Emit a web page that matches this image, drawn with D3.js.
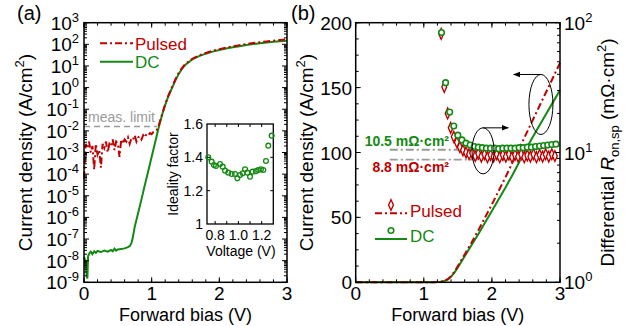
<!DOCTYPE html>
<html>
<head>
<meta charset="utf-8">
<script src="https://cdn.jsdelivr.net/npm/d3@7"></script>
<style>
  body { margin: 0; background: #fff; }
  svg { display: block; font-family: 'Liberation Sans', Arial, Helvetica, sans-serif; }
</style>
</head>
<body>
<svg id="chart" width="641" height="326"></svg>
<script>
// ---- data ----
// DC current density (A/cm^2) vs forward bias (V)
const dcV = [0, 0.02, 0.04, 0.05, 0.06, 0.08, 0.10, 0.125, 0.15, 0.175, 0.20, 0.25, 0.30, 0.35, 0.40, 0.425, 0.45, 0.475, 0.50, 0.55,
  0.60, 0.65, 0.68, 0.70, 0.72, 0.75, 0.80, 0.85, 0.90, 0.95, 1.00, 1.05, 1.10, 1.15, 1.20, 1.25, 1.30, 1.35, 1.40, 1.45,
  1.50, 1.60, 1.70, 1.80, 1.90, 2.00, 2.10, 2.20, 2.30, 2.40, 2.50, 2.60, 2.70, 2.80, 2.90, 3.00];
const dcJ = [1.5e-8, 1.0e-8, 2.0e-9, 1.5e-9, 1.6e-8, 2.2e-8, 2.6e-8, 2.0e-8, 2.7e-8, 2.3e-8, 2.8e-8, 2.5e-8, 2.9e-8, 2.6e-8, 3.1e-8, 2.7e-8, 3.6e-8, 2.9e-8, 3.3e-8, 3.5e-8,
  3.7e-8, 4.2e-8, 4.8e-8, 6.5e-8, 1.1e-7, 3.7e-7, 1.6e-6, 7.0e-6, 3.2e-5, 1.4e-4, 6.3e-4, 2.8e-3, 1.3e-2, 5.0e-2, 0.16, 0.42, 0.95, 2.1, 4.3, 7.5,
  11.5, 20, 28.5, 37, 46, 55, 64, 73, 82.5, 92.5, 102.5, 112, 121, 130, 139, 148];

// Pulsed current density
const puV = [0, 0.025, 0.05, 0.075, 0.1, 0.125, 0.15, 0.175, 0.2, 0.225, 0.25, 0.275, 0.3, 0.325, 0.35, 0.375, 0.4, 0.425, 0.45, 0.475,
  0.5, 0.525, 0.55, 0.575, 0.6, 0.625, 0.65, 0.675, 0.7, 0.725, 0.75, 0.775, 0.8, 0.825, 0.85, 0.875, 0.9, 0.925, 0.95, 0.975,
  1.0, 1.025, 1.05, 1.075, 1.1, 1.15, 1.20, 1.25, 1.30, 1.35, 1.40, 1.45, 1.50, 1.60, 1.70, 1.80, 1.90, 2.00, 2.10, 2.20,
  2.30, 2.40, 2.50, 2.60, 2.70, 2.80, 2.90, 3.00];
const puJ = [6.3e-5, 2.5e-3, 1.6e-3, 3.2e-3, 1.0e-3, 2.0e-3, 1.6e-4, 2.5e-3, 8.0e-4, 1.3e-3, 2.0e-4, 2.5e-3, 1.6e-3, 3.2e-3, 1.0e-3, 2.5e-3, 2.0e-3, 4.0e-3, 1.3e-3, 3.2e-3,
  2.5e-3, 6.3e-4, 4.0e-3, 2.5e-3, 4.0e-3, 3.2e-3, 5.0e-3, 2.5e-3, 4.5e-3, 4.0e-3, 6.3e-3, 3.2e-3, 5.0e-3, 5.6e-3, 4.0e-3, 6.3e-3, 5.0e-3, 7.1e-3, 6.3e-3, 7.9e-3,
  7.1e-3, 8.9e-3, 1.0e-2, 1.1e-2, 1.6e-2, 5.2e-2, 0.17, 0.45, 1.05, 2.4, 4.8, 8.2, 12.5, 21.5, 30.5, 40, 50, 60, 70.5, 81,
  92, 103, 114, 125, 136, 147, 158, 169];

// Differential R_on,sp (mOhm cm^2)
const rDcV = [1.26, 1.32, 1.38, 1.44, 1.50, 1.56, 1.62, 1.68, 1.74, 1.80, 1.86, 1.92, 1.98, 2.04, 2.10, 2.16, 2.22, 2.28, 2.34, 2.40,
  2.46, 2.52, 2.58, 2.64, 2.70, 2.76, 2.82, 2.88, 2.94];
const rDc = [84, 34.5, 20.5, 16, 13.6, 12.5, 11.8, 11.4, 11.1, 11.0, 10.9, 10.8, 10.8, 10.8, 10.7, 10.8, 10.8, 10.8, 10.8, 10.9,
  10.9, 11.0, 11.0, 11.1, 11.2, 11.3, 11.4, 11.5, 11.6];
const rPuV = [1.255, 1.30, 1.35, 1.395, 1.44, 1.485, 1.53, 1.575, 1.62, 1.665, 1.71, 1.755, 1.80, 1.845, 1.89, 1.935, 1.98, 2.025, 2.07, 2.115,
  2.16, 2.205, 2.25, 2.295, 2.34, 2.385, 2.43, 2.475, 2.52, 2.565, 2.61, 2.655, 2.70, 2.745, 2.79, 2.835, 2.88, 2.925];
const rPu = [82, 32, 20, 15.5, 13.2, 12.0, 11.0, 10.4, 10.0, 9.7, 9.9, 9.4, 9.8, 9.3, 9.7, 9.2, 9.6, 9.3, 9.7, 9.2,
  9.6, 9.3, 9.7, 9.2, 9.6, 9.3, 9.7, 9.2, 9.5, 9.3, 9.7, 9.2, 9.6, 9.3, 9.7, 9.3, 9.7, 9.4];
const rDcRef = 10.5, rPuRef = 8.8;

// Inset: ideality factor vs voltage
const nV = [0.741, 0.770, 0.790, 0.807, 0.842, 0.865, 0.885, 0.913, 0.942, 0.971, 0.991, 1.014, 1.037, 1.057, 1.077, 1.100, 1.123, 1.151, 1.171, 1.194,
  1.214, 1.237, 1.257, 1.286];
const nVal = [1.40, 1.374, 1.354, 1.348, 1.36, 1.344, 1.32, 1.308, 1.30, 1.30, 1.274, 1.294, 1.304, 1.328, 1.308, 1.284, 1.314, 1.317, 1.324, 1.328,
  1.324, 1.378, 1.47, 1.53];

const measLimit = 1.6e-2;
const xTicks = [0, 1, 2, 3];
const logTicksA = d3.range(-9, 4);
const linTicksB = [0, 50, 100, 150, 200];
const logTicksR = [0, 1, 2];
const insetXTicks = [0.8, 1.0, 1.2];
const insetYTicks = [1, 1.2, 1.4, 1.6];

const RED = '#c00000';
const GREEN = '#138a13';
const GRAY = '#9a9a9a';
const FS = 19;

const svg = d3.select('#chart');

// ---- scales ----
const xa = d3.scaleLinear().domain([0, 3]).range([84, 287]);
const ya = d3.scaleLog().domain([1e-9, 1e3]).range([282.3, 22.7]);
const xb = d3.scaleLinear().domain([0, 3]).range([355.7, 560]);
const yb = d3.scaleLinear().domain([0, 200]).range([282.3, 22.7]);
const yr = d3.scaleLog().domain([1, 100]).range([282.3, 22.7]);
const xi = d3.scaleLinear().domain([0.73, 1.3]).range([207, 273.3]);
const yi = d3.scaleLinear().domain([1, 1.6]).range([224, 124]);

const dc = dcV.map((v, i) => ({ v, j: dcJ[i] }));
const pu = puV.map((v, i) => ({ v, j: puJ[i] }));

// helpers for inward ticks
function yTicks(g, vals, scale, x, len, dir) {
  g.append('g').selectAll('line').data(vals).join('line')
    .attr('x1', x).attr('x2', x + dir * len)
    .attr('y1', d => scale(d)).attr('y2', d => scale(d))
    .attr('stroke', '#000').attr('stroke-width', 1);
}
function xTicksAt(g, vals, scale, y, len, dir) {
  g.append('g').selectAll('line').data(vals).join('line')
    .attr('y1', y).attr('y2', y + dir * len)
    .attr('x1', d => scale(d)).attr('x2', d => scale(d))
    .attr('stroke', '#000').attr('stroke-width', 1);
}
function pow10(sel, k, fs, sup) {
  sel.append('tspan').text('10');
  sel.append('tspan').attr('dy', -fs * 0.42).attr('font-size', sup).text(k < 0 ? '-' + (-k) : k);
}

const logMinor = [];
for (let k = -9; k < 3; k++) for (let m = 2; m <= 9; m++) logMinor.push(m * Math.pow(10, k));
const logMinorR = [];
for (let k = 0; k < 2; k++) for (let m = 2; m <= 9; m++) logMinorR.push(m * Math.pow(10, k));
const xMinor = d3.range(0, 3.001, 0.2).map(d => +d.toFixed(1));

// ================= panel (a) =================
const ga = svg.append('g');

// measurement limit
ga.append('line')
  .attr('x1', xa(0)).attr('x2', xa(1.08))
  .attr('y1', ya(measLimit)).attr('y2', ya(measLimit))
  .attr('stroke', GRAY).attr('stroke-width', 1.5).attr('stroke-dasharray', '6,4');
ga.append('text')
  .attr('x', xa(0.06)).attr('y', ya(measLimit) - 4)
  .attr('font-size', 14).attr('fill', GRAY).text('meas. limit');

const lineA = d3.line().x(d => xa(d.v)).y(d => ya(d.j));
ga.append('path').datum(dc).attr('d', lineA)
  .attr('fill', 'none').attr('stroke', GREEN).attr('stroke-width', 2);
ga.append('path').datum(pu).attr('d', lineA)
  .attr('fill', 'none').attr('stroke', RED).attr('stroke-width', 2)
  .attr('stroke-dasharray', '7,3,2,3');

// frame + ticks
ga.append('rect').attr('x', xa(0)).attr('y', ya(1e3))
  .attr('width', xa(3) - xa(0)).attr('height', ya(1e-9) - ya(1e3))
  .attr('fill', 'none').attr('stroke', '#000').attr('stroke-width', 1.5);
yTicks(ga, logTicksA.map(k => Math.pow(10, k)), ya, xa(0), 5, 1);
yTicks(ga, logTicksA.map(k => Math.pow(10, k)), ya, xa(3), 5, -1);
yTicks(ga, logMinor, ya, xa(0), 3, 1);
yTicks(ga, logMinor, ya, xa(3), 3, -1);
xTicksAt(ga, xMinor, xa, ya(1e-9), 3, -1);
xTicksAt(ga, xMinor, xa, ya(1e3), 3, 1);
xTicksAt(ga, xTicks, xa, ya(1e-9), 5, -1);
xTicksAt(ga, xTicks, xa, ya(1e3), 5, 1);

// tick labels
ga.append('g').selectAll('text').data(logTicksA).join('text')
  .attr('x', 79).attr('y', d => ya(Math.pow(10, d)) + 7)
  .attr('text-anchor', 'end').attr('font-size', FS)
  .each(function (d) { pow10(d3.select(this), d, FS, 13); });
ga.append('g').selectAll('text').data(xTicks).join('text')
  .attr('x', d => xa(d)).attr('y', 300)
  .attr('text-anchor', 'middle').attr('font-size', FS).text(d => d);

ga.append('text').attr('x', xa(1.5)).attr('y', 320.5)
  .attr('text-anchor', 'middle').attr('font-size', 18).text('Forward bias (V)');
const ylA = ga.append('text')
  .attr('transform', `translate(32, ${(ya(1e3) + ya(1e-9)) / 2}) rotate(-90)`)
  .attr('text-anchor', 'middle').attr('font-size', FS);
ylA.append('tspan').text('Current density (A/cm');
ylA.append('tspan').attr('dy', -8).attr('font-size', 13).text('2');
ylA.append('tspan').attr('dy', 8).text(')');

ga.append('text').attr('x', 17).attr('y', 20).attr('font-size', 20).text('(a)');

// legend (a)
ga.append('line').attr('x1', 100).attr('x2', 133).attr('y1', 43.3).attr('y2', 43.3)
  .attr('stroke', RED).attr('stroke-width', 2).attr('stroke-dasharray', '7,3,2,3');
ga.append('text').attr('x', 135).attr('y', 49.5).attr('font-size', 17).attr('fill', RED).text('Pulsed');
ga.append('line').attr('x1', 100).attr('x2', 133).attr('y1', 61.7).attr('y2', 61.7)
  .attr('stroke', GREEN).attr('stroke-width', 2);
ga.append('text').attr('x', 135).attr('y', 67.8).attr('font-size', 17).attr('fill', GREEN).text('DC');

// ---- inset ----
const gi = svg.append('g');
gi.append('rect').attr('x', xi.range()[0]).attr('y', yi(1.6))
  .attr('width', xi.range()[1] - xi.range()[0]).attr('height', yi(1) - yi(1.6))
  .attr('fill', '#fff').attr('stroke', '#000').attr('stroke-width', 1.3);
xTicksAt(gi, [0.8, 0.9, 1.0, 1.1, 1.2], xi, yi(1), 3, -1);
xTicksAt(gi, [0.8, 0.9, 1.0, 1.1, 1.2], xi, yi(1.6), 3, 1);
yTicks(gi, [1.2, 1.4], yi, xi.range()[0], 3, 1);
yTicks(gi, [1.2, 1.4], yi, xi.range()[1], 3, -1);
gi.append('g').selectAll('circle').data(nV).join('circle')
  .attr('cx', d => xi(d)).attr('cy', (d, i) => yi(nVal[i])).attr('r', 2.4)
  .attr('fill', 'none').attr('stroke', GREEN).attr('stroke-width', 1.3);
gi.append('g').selectAll('text').data(insetYTicks).join('text')
  .attr('x', 203).attr('y', d => yi(d) + 5)
  .attr('text-anchor', 'end').attr('font-size', 14).text(d => d === 1 ? '1' : d.toFixed(1));
gi.append('g').selectAll('text').data(insetXTicks).join('text')
  .attr('x', d => xi(d)).attr('y', 240)
  .attr('text-anchor', 'middle').attr('font-size', 14).text(d => d.toFixed(1));
gi.append('text').attr('x', 241).attr('y', 256).attr('text-anchor', 'middle')
  .attr('font-size', 14).text('Voltage (V)');
gi.append('text').attr('transform', `translate(178, ${(yi(1) + yi(1.6)) / 2}) rotate(-90)`)
  .attr('text-anchor', 'middle').attr('font-size', 14).text('Ideality factor');

// ================= panel (b) =================
const gb = svg.append('g');
const lineB = d3.line().x(d => xb(d.v)).y(d => yb(d.j));
gb.append('path').datum(dc).attr('d', lineB)
  .attr('fill', 'none').attr('stroke', GREEN).attr('stroke-width', 2);
gb.append('path').datum(pu).attr('d', lineB)
  .attr('fill', 'none').attr('stroke', RED).attr('stroke-width', 2)
  .attr('stroke-dasharray', '7,3,2,3');

// reference resistance levels
[rDcRef, rPuRef].forEach(r => {
  gb.append('line').attr('x1', xb(0.5)).attr('x2', xb(2.45))
    .attr('y1', yr(r)).attr('y2', yr(r))
    .attr('stroke', GRAY).attr('stroke-width', 1.8).attr('stroke-dasharray', '8,3,2,3');
});

// R markers
const diamond = d3.symbol().type(d3.symbolDiamond).size(20);
gb.append('g').selectAll('path').data(rPuV).join('path')
  .attr('d', diamond)
  .attr('transform', (d, i) => `translate(${xb(d)},${yr(rPu[i])}) scale(1,1.3)`)
  .attr('fill', '#fff').attr('stroke', RED).attr('stroke-width', 1.3);
gb.append('g').selectAll('circle').data(rDcV).join('circle')
  .attr('cx', d => xb(d)).attr('cy', (d, i) => yr(rDc[i])).attr('r', 2.8)
  .attr('fill', '#fff').attr('stroke', GREEN).attr('stroke-width', 1.6);

gb.append('text').attr('x', 449).attr('y', 146).attr('text-anchor', 'end')
  .attr('font-size', 14).attr('font-weight', 'bold').attr('fill', GREEN).text('10.5 mΩ·cm²');
gb.append('text').attr('x', 449).attr('y', 171.5).attr('text-anchor', 'end')
  .attr('font-size', 14).attr('font-weight', 'bold').attr('fill', RED).text('8.8 mΩ·cm²');

// ellipses + arrows
svg.append('defs').append('marker').attr('id', 'arr')
  .attr('viewBox', '0 0 10 10').attr('refX', 9).attr('refY', 5)
  .attr('markerWidth', 7).attr('markerHeight', 7).attr('orient', 'auto')
  .append('path').attr('d', 'M0,1 L10,5 L0,9 Z').attr('fill', '#000');
const e1 = { cx: xb(1.87), cy: yr(10.3), rx: 11, ry: 23 };
const e2 = { cx: xb(2.72), cy: yb(137), rx: 12, ry: 30 };
[e1, e2].forEach(e => {
  gb.append('ellipse').attr('cx', e.cx).attr('cy', e.cy).attr('rx', e.rx).attr('ry', e.ry)
    .attr('fill', 'none').attr('stroke', '#000').attr('stroke-width', 1);
});
gb.append('line').attr('x1', e1.cx).attr('x2', xb(2.24)).attr('y1', e1.cy - e1.ry).attr('y2', e1.cy - e1.ry)
  .attr('stroke', '#000').attr('stroke-width', 1).attr('marker-end', 'url(#arr)');
gb.append('line').attr('x1', e2.cx).attr('x2', xb(2.32)).attr('y1', e2.cy - e2.ry).attr('y2', e2.cy - e2.ry)
  .attr('stroke', '#000').attr('stroke-width', 1).attr('marker-end', 'url(#arr)');

// frame + ticks
gb.append('rect').attr('x', xb(0)).attr('y', yb(200))
  .attr('width', xb(3) - xb(0)).attr('height', yb(0) - yb(200))
  .attr('fill', 'none').attr('stroke', '#000').attr('stroke-width', 1.5);
yTicks(gb, d3.range(0, 200.1, 12.5), yb, xb(0), 3, 1);
yTicks(gb, linTicksB, yb, xb(0), 5, 1);
yTicks(gb, logTicksR.map(k => Math.pow(10, k)), yr, xb(3), 5, -1);
yTicks(gb, logMinorR, yr, xb(3), 3, -1);
xTicksAt(gb, xMinor, xb, yb(0), 3, -1);
xTicksAt(gb, xMinor, xb, yb(200), 3, 1);
xTicksAt(gb, xTicks, xb, yb(0), 5, -1);
xTicksAt(gb, xTicks, xb, yb(200), 5, 1);

gb.append('g').selectAll('text').data(linTicksB).join('text')
  .attr('x', 352).attr('y', d => yb(d) + 7)
  .attr('text-anchor', 'end').attr('font-size', FS).text(d => d);
gb.append('g').selectAll('text').data(logTicksR).join('text')
  .attr('x', 564).attr('y', d => yr(Math.pow(10, d)) + 7)
  .attr('font-size', FS)
  .each(function (d) { pow10(d3.select(this), d, FS, 13); });
gb.append('g').selectAll('text').data(xTicks).join('text')
  .attr('x', d => xb(d)).attr('y', 300)
  .attr('text-anchor', 'middle').attr('font-size', FS).text(d => d);

gb.append('text').attr('x', xb(1.5)).attr('y', 320.5)
  .attr('text-anchor', 'middle').attr('font-size', 18).text('Forward bias (V)');
const ylB = gb.append('text')
  .attr('transform', `translate(313, ${(yb(0) + yb(200)) / 2}) rotate(-90)`)
  .attr('text-anchor', 'middle').attr('font-size', FS);
ylB.append('tspan').text('Current density (A/cm');
ylB.append('tspan').attr('dy', -8).attr('font-size', 13).text('2');
ylB.append('tspan').attr('dy', 8).text(')');

const ylR = gb.append('text')
  .attr('transform', `translate(614, ${(yb(0) + yb(200)) / 2}) rotate(-90)`)
  .attr('text-anchor', 'middle').attr('font-size', FS);
ylR.append('tspan').text('Differential ');
ylR.append('tspan').attr('font-style', 'italic').text('R');
ylR.append('tspan').attr('dy', 5).attr('font-size', 13).text('on,sp');
ylR.append('tspan').attr('dy', -5).text(' (mΩ·cm');
ylR.append('tspan').attr('dy', -8).attr('font-size', 13).text('2');
ylR.append('tspan').attr('dy', 8).text(')');

gb.append('text').attr('x', 291).attr('y', 20).attr('font-size', 20).text('(b)');

// legend (b)
gb.append('line').attr('x1', 375).attr('x2', 407).attr('y1', 213.3).attr('y2', 213.3)
  .attr('stroke', RED).attr('stroke-width', 2).attr('stroke-dasharray', '7,3,2,3');
gb.append('path').attr('d', diamond).attr('transform', 'translate(391,205) scale(1,1.3)')
  .attr('fill', '#fff').attr('stroke', RED).attr('stroke-width', 1.3);
gb.append('text').attr('x', 410).attr('y', 216.5).attr('font-size', 17).attr('fill', RED).text('Pulsed');
gb.append('line').attr('x1', 375).attr('x2', 407).attr('y1', 239).attr('y2', 239)
  .attr('stroke', GREEN).attr('stroke-width', 2);
gb.append('circle').attr('cx', 391).attr('cy', 230.5).attr('r', 2.8)
  .attr('fill', '#fff').attr('stroke', GREEN).attr('stroke-width', 1.6);
gb.append('text').attr('x', 410).attr('y', 242).attr('font-size', 17).attr('fill', GREEN).text('DC');
</script>
</body>
</html>
